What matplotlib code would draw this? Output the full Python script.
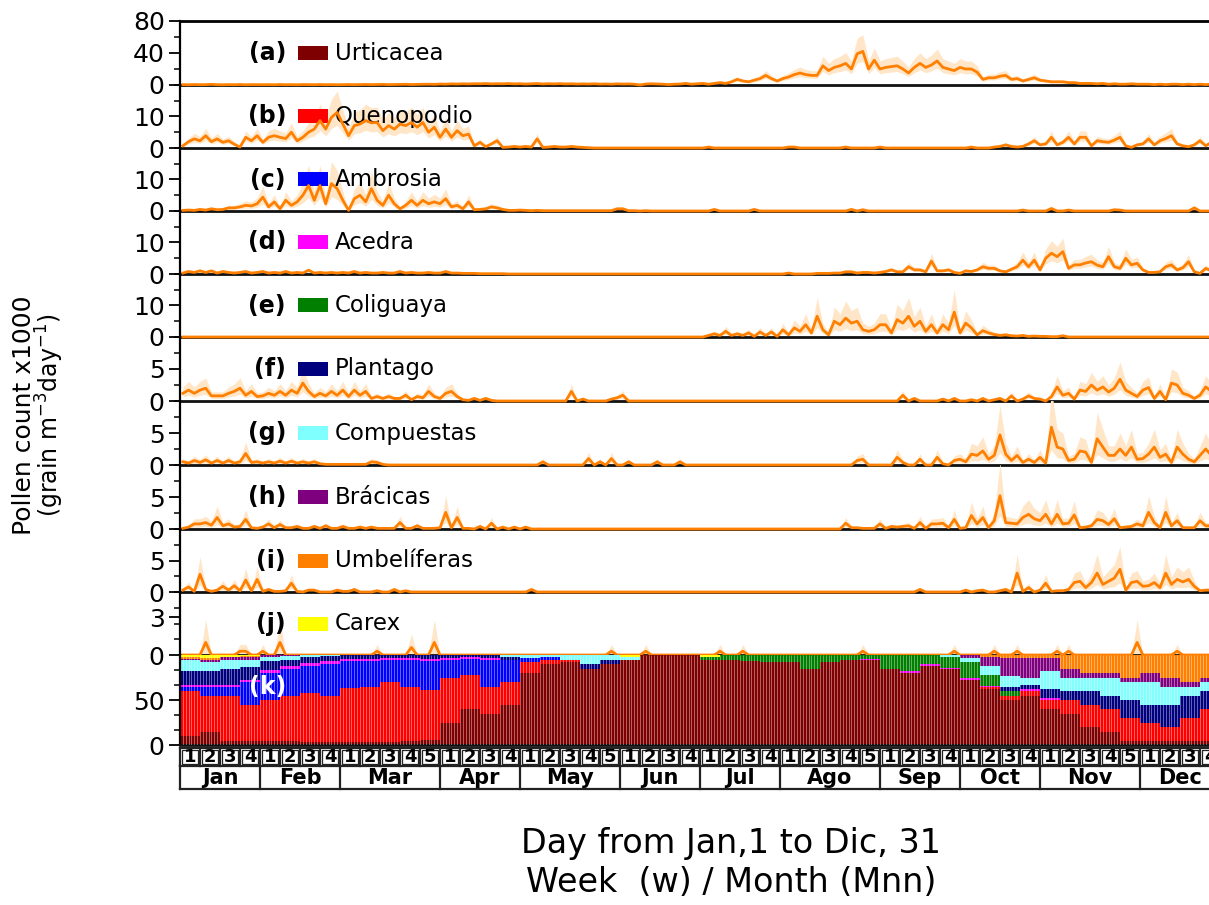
import numpy as np
import matplotlib
matplotlib.use("Agg")
import matplotlib.pyplot as plt
from matplotlib.patches import Rectangle
from matplotlib.ticker import MultipleLocator, FixedLocator

plt.rcParams['font.family'] = ['DejaVu Sans']

# ---------------- data (values x1000, 2-day bins, Jan 1 -> Dec 31) ----------------
taxa = ['Urticacea', 'Quenopodio', 'Ambrosia', 'Acedra', 'Coliguaya',
        'Plantago', 'Compuestas', 'Brácicas', 'Umbelíferas', 'Carex']
panel_tags = ['(a)', '(b)', '(c)', '(d)', '(e)', '(f)', '(g)', '(h)', '(i)', '(j)']
taxon_colors = ['#7f0000', '#ff0000', '#0000ff', '#ff00ff', '#007f00',
                '#00007f', '#80ffff', '#7f007f', '#ff8000', '#ffff00']
y_max = [80, 20, 20, 20, 20, 10, 10, 10, 10, 5]
y_major = [[0, 40, 80], [0, 10], [0, 10], [0, 10], [0, 10],
           [0, 5], [0, 5], [0, 5], [0, 5], [0, 3]]
months = ['Jan', 'Feb', 'Mar', 'Apr', 'May', 'Jun', 'Jul', 'Ago', 'Sep', 'Oct', 'Nov', 'Dec']
weeks_per_month = [4, 4, 5, 4, 5, 4, 4, 5, 4, 4, 5, 4]
band_rel = [0.5, 0.6, 0.8, 0.6, 0.9, 0.8, 1.0, 1.0, 1.0, 1.8]

urticacea = [
    0.5, 0.3, 0.6, 0.4, 0.5, 0.8, 0.4, 0.3, 0.5, 0.4, 0.6, 0.3, 0.5, 0.4,
    0.4, 0.5, 0.3, 0.6, 0.4, 0.5, 0.3, 0.6, 0.5, 0.4, 0.6, 0.4, 0.5, 0.3,
    0.5, 0.6, 0.4, 0.5, 0.7, 0.5, 0.6, 0.8, 0.5, 0.6, 0.7, 0.9, 0.6, 0.8,
    0.9, 1.0, 0.8, 1.2, 1.0, 1.4, 1.2, 1.5, 1.3, 1.6, 1.5, 1.8, 1.4, 1.6,
    1.5, 1.8, 1.4, 1.6, 1.2, 1.5, 1.8, 1.3, 1.6, 1.4, 1.7, 1.3, 1.5, 1.2,
    1.4, 1.2, 1.5, 1.1, 1.3, 1.0, 1.4, 1.2, 1.3, 1.0, 0.0, 1.2, 1.5, 1.3,
    1.0, 0.5, 1.0, 1.2, 2.0, 1.0, 1.5, 2.0, 1.0, 2.0, 3.0, 2.0, 4.0, 7.0,
    5, 4, 6, 8, 12, 8, 5, 8, 10, 13, 15, 13, 12, 12,
    24, 18, 22, 24, 27, 20, 39, 42, 20, 31, 20, 22, 23, 24,
    20, 15, 22, 27, 22, 25, 30, 22, 20, 18, 22, 20, 20, 16,
    7, 9, 9, 11, 12, 7, 8, 5, 7, 9, 6, 5, 4, 4,
    4, 3, 3, 2, 2, 2, 1.5, 2, 1, 1.5, 1, 1, 1.5, 1,
    1, 1, 0.5, 1, 0.5, 1, 1, 0.5, 1, 0.5, 1, 0.5, 1, 0.5]

quenopodio = [
    0.7, 2, 2.9, 2.3, 3.9, 2, 2.9, 1.8, 2.3, 1.2, 0.3, 3.4, 2.3, 3.9,
    1.8, 3.4, 3.9, 3.4, 3, 5, 2.3, 3.4, 5, 6, 8.7, 6, 9.7, 11.3,
    7.6, 3.9, 7.1, 7.6, 8.7, 8, 8.1, 5.5, 7.1, 6, 7.6, 7.1, 8.1, 6.6,
    8.1, 5, 6.6, 3.4, 6, 3.4, 5.5, 3.9, 4.4, 0.7, 1.8, 0.4, 1.3, 2.3,
    0.2, 0.3, 0.5, 0.3, 0.5, 0.3, 2.9, 0.2, 0.3, 0.5, 0.3, 0.3, 0.5, 0.3,
    0.2, 0.1, 0, 0, 0, 0, 0, 0, 0, 0, 0, 0, 0, 0,
    0, 0, 0, 0, 0, 0, 0, 0, 0.3, 0, 0, 0, 0, 0,
    0, 0, 0, 0, 0, 0, 0, 0, 0.3, 0.3, 0, 0, 0, 0,
    0, 0, 0, 0, 0.3, 0, 0, 0, 0, 0, 0.3, 0, 0, 0,
    0, 0, 0, 0, 0, 0, 0, 0, 0, 0, 0, 0, 0.3, 0,
    0, 0, 0.3, 0.5, 1, 0.5, 0.3, 0.5, 1.3, 2.3, 1, 1.3, 3.4, 1,
    1.8, 3.4, 1.3, 3.4, 3.4, 0.7, 2.3, 2, 1.8, 2.5, 3.4, 0.7, 0.2, 1,
    1.3, 2.9, 1, 2.3, 3, 3.9, 1.3, 0.7, 0.4, 1, 2.3, 0.7, 1.8, 1]

ambrosia = [
    0.2, 0.3, 0.2, 0.5, 0.3, 0.7, 0.4, 0.5, 1, 1, 1.3, 1.8, 1.6, 2.3,
    4.4, 1.3, 2.9, 0.7, 3.4, 1.8, 2.9, 5, 8.1, 3.4, 8.1, 2.3, 8.7, 7.1,
    3.4, 0.2, 3.9, 5, 2.9, 7.1, 3.4, 1.8, 5, 2.3, 0.7, 1.8, 3.4, 1.8,
    3.4, 2.3, 2.9, 2.3, 3.9, 1.3, 1.8, 0.7, 2.9, 0.4, 0.5, 0.7, 1.3, 1,
    0.5, 0.2, 0.2, 0.3, 0.2, 0.1, 0.2, 0.1, 0.1, 0.1, 0.1, 0.1, 0.1, 0.1,
    0.1, 0.1, 0.1, 0.1, 0.1, 0.1, 0.7, 0.7, 0.1, 0.1, 0, 0.1, 0, 0,
    0, 0, 0, 0, 0, 0, 0, 0, 0, 0.5, 0, 0, 0, 0,
    0, 0, 0.5, 0, 0, 0, 0, 0, 0, 0, 0, 0, 0, 0,
    0, 0, 0, 0, 0, 0.5, 0, 0.4, 0, 0, 0, 0, 0, 0,
    0, 0, 0, 0, 0, 0, 0, 0, 0, 0, 0, 0, 0, 0,
    0, 0, 0, 0, 0, 0, 0, 0.3, 0, 0, 0, 0, 0.8, 0,
    0, 0.3, 0, 0, 0, 0, 0, 0, 0, 0.4, 0.3, 0, 0, 0,
    0, 0, 0, 0, 0, 0, 0, 0, 0, 1.0, 0, 0, 0, 0]

acedra = [
    0.3, 0.8, 0.5, 1, 0.5, 1, 0.3, 0.8, 0.5, 0.3, 0.5, 0.8, 0.3, 0.5,
    0.8, 0.3, 0.5, 0.3, 0.8, 0.3, 0.5, 0.3, 1.2, 0.3, 0.5, 0.3, 0.5, 0.3,
    0.5, 0.3, 0.8, 0.3, 0.5, 0.3, 0.3, 0.5, 0.3, 0.3, 0.8, 0.3, 0.5, 0.3,
    0.3, 0.5, 0.3, 0.3, 0.8, 0.3, 0.3, 0.2, 0.2, 0.2, 0.1, 0.1, 0.1, 0.1,
    0.1, 0, 0, 0, 0, 0, 0, 0, 0, 0, 0, 0, 0, 0,
    0, 0, 0, 0, 0, 0, 0, 0, 0, 0, 0, 0, 0, 0,
    0, 0, 0, 0, 0, 0, 0, 0, 0, 0, 0, 0, 0, 0,
    0, 0, 0, 0, 0, 0, 0, 0, 0.3, 0, 0, 0, 0, 0.2,
    0.2, 0.2, 0.3, 0.3, 0.7, 0.7, 0.3, 0.5, 0.5, 0.3, 0.5, 0.8, 1.3, 0.7,
    0.7, 2.3, 1.3, 1.3, 0.7, 4.1, 1, 1, 1.3, 0.5, 0.2, 1, 0.8, 1.3,
    2.3, 1.8, 1.8, 1, 0.7, 1.5, 2.3, 4.4, 2.3, 4.4, 1.3, 5, 6.6, 5.5,
    7.1, 1.8, 2.9, 2.9, 3.5, 3.9, 2.8, 2.3, 5.5, 2.3, 1.8, 5, 2.9, 3.4,
    1.3, 0.5, 0.5, 0.7, 2.3, 2.9, 1.3, 2, 3.9, 0.7, 0.2, 1.8, 1, 0.5]

coliguaya = [
    0, 0, 0, 0, 0, 0, 0, 0, 0, 0, 0, 0, 0, 0,
    0, 0, 0, 0, 0, 0, 0, 0, 0, 0, 0, 0, 0, 0,
    0, 0, 0, 0, 0, 0, 0, 0, 0, 0, 0, 0, 0, 0,
    0, 0, 0, 0, 0, 0, 0, 0, 0, 0, 0, 0, 0, 0,
    0, 0, 0, 0, 0, 0, 0, 0, 0, 0, 0, 0, 0, 0,
    0, 0, 0, 0, 0, 0, 0, 0, 0, 0, 0, 0, 0, 0,
    0, 0, 0, 0, 0, 0, 0, 0, 0.5, 1, 0.5, 1.8, 0.5, 1,
    0.5, 1.3, 0.2, 1.6, 0.5, 1.6, 0.2, 2.3, 0.7, 2.9, 1.8, 3.9, 1.3, 6.6,
    2.3, 0.7, 5, 3.9, 6, 4.4, 5, 2.3, 1.8, 2.3, 3.9, 3.9, 1.3, 5.5,
    4.4, 6.6, 3.4, 5, 1.8, 3.9, 1.3, 3.9, 2.3, 7.9, 1.3, 4.4, 2.9, 0.7,
    2, 1.3, 0.8, 0.5, 0.7, 0.4, 0.3, 0.5, 0.2, 0.3, 0.2, 0.2, 0.1, 0.1,
    0.4, 0, 0, 0, 0, 0, 0, 0, 0, 0, 0, 0, 0, 0,
    0, 0, 0, 0, 0, 0, 0, 0, 0, 0, 0, 0, 0, 0]

plantago = [
    1.2, 1.7, 1.2, 1.7, 2, 0.8, 0.8, 0.8, 1.2, 1.5, 2, 0.9, 1.5, 0.7,
    0.8, 1.2, 0.9, 1.5, 0.9, 1.7, 1.2, 2.8, 1.5, 0.7, 1.2, 0.8, 1.5, 0.9,
    1.7, 0.7, 1.7, 0.9, 1.5, 0.4, 0.7, 0.4, 0.7, 0.4, 0.4, 0.9, 0.2, 0.7,
    0.5, 1.5, 0.7, 0.4, 1.2, 1.5, 0.7, 0.2, 0.1, 0.4, 0.1, 0.4, 0.1, 0,
    0, 0, 0, 0, 0, 0, 0, 0, 0, 0, 0, 0, 1.5, 0,
    0.3, 0, 0, 0, 0, 0.3, 0.5, 0.9, 0, 0, 0, 0, 0, 0,
    0, 0, 0, 0, 0, 0, 0, 0, 0, 0, 0, 0, 0, 0,
    0, 0, 0, 0, 0, 0, 0, 0, 0, 0, 0, 0, 0, 0,
    0, 0, 0, 0, 0, 0, 0, 0, 0, 0, 0, 0, 0, 0,
    0.9, 0, 0.4, 0, 0, 0, 0, 0.3, 0, 0.4, 0, 0, 0.2, 0,
    0.4, 0, 0.2, 0.4, 0, 0.8, 0, 0.3, 0.8, 0.4, 0.3, 0, 0.7, 2.2,
    0.9, 1.2, 0.3, 1.7, 1.5, 2.5, 1.7, 2.2, 1.4, 2, 3.4, 1.7, 1.2, 0.7,
    1.7, 2.1, 0.4, 1.5, 0.2, 2.8, 2.5, 1.2, 0.9, 0.4, 0.9, 2.2, 1.5, 1]

compuestas = [
    0.5, 0.3, 0.7, 0.4, 0.8, 0.3, 0.7, 0.3, 0.7, 0.3, 0.5, 1.8, 0.4, 0.5,
    0.3, 0.5, 0.3, 0.6, 0.3, 0.6, 0.3, 0.5, 0.3, 0.5, 0.2, 0.1, 0.1, 0.1,
    0.1, 0.1, 0.1, 0.1, 0.1, 0.5, 0.4, 0.1, 0, 0, 0, 0, 0, 0,
    0, 0, 0, 0, 0, 0, 0, 0, 0, 0, 0, 0, 0, 0,
    0, 0, 0, 0, 0, 0, 0, 0.5, 0, 0, 0, 0, 0, 0,
    0, 1, 0, 0.5, 0, 1, 0, 0, 0.5, 0, 0, 0, 0, 0.5,
    0, 0, 0, 0.5, 0, 0, 0, 0, 0, 0, 0, 0, 0, 0,
    0, 0, 0, 0, 0, 0, 0, 0, 0, 0, 0, 0, 0, 0,
    0, 0, 0, 0, 0, 0, 0.7, 0.9, 0, 0, 0, 0, 0, 1.2,
    0.4, 0, 0, 0.9, 0, 0, 1.2, 0.2, 0, 0.7, 0.9, 0.5, 1.7, 1.5,
    2.2, 0.9, 1.5, 4.7, 1.7, 0.7, 1.5, 0.4, 0.9, 0.4, 1.2, 0.3, 5.9, 2.8,
    2.5, 0.7, 0.9, 2.2, 2, 0.4, 4.1, 2.8, 1.5, 1.5, 2.5, 1.5, 2.8, 0.9,
    1, 1.7, 2.8, 1.2, 1.7, 0.4, 2.8, 1.7, 0.9, 0.5, 1.5, 2.5, 1.5, 1]

bracicas = [
    0.1, 0.3, 0.8, 0.8, 1, 0.6, 1.8, 0.5, 0.8, 0.3, 0.4, 1.5, 0.2, 0.1,
    0.3, 0.8, 0.2, 0.7, 0.2, 0.2, 0.4, 0.1, 0.1, 0.4, 0.1, 0.5, 0.1, 0.1,
    0.4, 0.1, 0.1, 0.3, 0.1, 0.3, 0.1, 0.1, 0.1, 0.1, 1, 0.1, 0.1, 0.5,
    0.1, 0.1, 0.1, 0.2, 2.6, 0.2, 1.8, 0.1, 0.1, 0, 0.4, 0, 0.9, 0,
    0.3, 0, 0.3, 0, 0.3, 0, 0, 0, 0, 0, 0, 0, 0, 0,
    0, 0, 0, 0, 0, 0, 0, 0, 0, 0, 0, 0, 0, 0,
    0, 0, 0, 0, 0, 0, 0, 0, 0, 0, 0, 0, 0, 0,
    0, 0, 0, 0, 0, 0, 0, 0, 0, 0, 0, 0, 0, 0,
    0, 0, 0, 0, 0.9, 0.2, 0.2, 0.1, 0.1, 0.1, 0.8, 0.1, 0.4, 0.3,
    0.4, 0.5, 0.1, 1, 0.1, 0.8, 0.8, 0.9, 0.2, 1.5, 0.1, 0.2, 2.1, 0.8,
    1.8, 0.2, 1.3, 5.2, 1, 0.9, 0.8, 1.8, 2.3, 1.6, 1.3, 2.3, 0.8, 2.3,
    0.8, 0.9, 2.2, 0.2, 0.3, 0.5, 1.5, 1.3, 0.7, 1.6, 0.2, 0.3, 0.4, 0.8,
    0.5, 2.6, 1, 0.2, 2.6, 0.5, 1.3, 0.2, 0.2, 0.2, 1.3, 0.5, 0.5, 0.5]

umbeliferas = [
    0.3, 0.8, 0.1, 2.8, 0.4, 0.1, 0.3, 0.9, 0.3, 1, 0.2, 1.9, 0.2, 2,
    0.1, 0.4, 0.1, 0.1, 0.2, 1.4, 0.1, 0, 0.3, 0.3, 0, 0, 0, 0.3,
    0.1, 0.1, 0.4, 0, 0, 0, 0.2, 0, 0, 0.4, 0, 0.2, 0, 0,
    0, 0, 0, 0, 0, 0, 0, 0, 0, 0, 0, 0, 0, 0,
    0, 0, 0, 0, 0, 0.4, 0, 0, 0, 0, 0, 0, 0, 0,
    0, 0, 0, 0, 0, 0, 0, 0, 0, 0, 0, 0, 0, 0,
    0, 0, 0, 0, 0, 0, 0, 0, 0, 0, 0, 0, 0, 0,
    0, 0, 0, 0, 0, 0, 0, 0, 0, 0, 0, 0, 0, 0,
    0, 0, 0, 0, 0, 0, 0, 0, 0, 0, 0, 0, 0, 0,
    0, 0, 0, 0.4, 0, 0, 0, 0, 0, 0, 0, 0.3, 0, 0.2,
    0.3, 0, 0, 0.2, 0.4, 0, 3, 0.1, 0.7, 0, 0.3, 1.4, 0.1, 0.2,
    0.2, 0.4, 1.5, 1.7, 0.7, 1.5, 3, 1.2, 1.7, 2.2, 3.6, 0.3, 1.5, 1.7,
    0.9, 1, 1.5, 0.7, 3, 1.2, 2, 1.6, 2, 0.9, 0.2, 0.3, 0.3, 0.3]

carex = [
    0, 0, 0, 0, 1, 0, 0, 0, 0, 0, 0.3, 0.3, 0, 0,
    0.3, 0, 0, 1, 0, 0, 0, 0, 0, 0, 0, 0, 0, 0,
    0, 0, 0, 0, 0, 0, 0.3, 0, 0, 0, 0, 0, 0.6, 0,
    0, 0, 1, 0, 0, 0, 0, 0, 0, 0, 0, 0, 0, 0,
    0, 0, 0, 0, 0, 0, 0, 0, 0, 0, 0, 0, 0, 0,
    0, 0, 0, 0, 0, 0.3, 0, 0, 0, 0, 0, 0.3, 0, 0,
    0, 0, 0, 0, 0, 0, 0, 0, 0, 0, 0.3, 0, 0, 0,
    0.3, 0, 0, 0, 0, 0, 0, 0, 0, 0, 0, 0, 0, 0,
    0, 0, 0, 0, 0, 0, 0, 0.3, 0, 0, 0, 0, 0, 0,
    0, 0, 0, 0, 0, 0, 0, 0, 0, 0.3, 0, 0, 0, 0,
    0, 0, 0.3, 0, 0, 0, 0.3, 0, 0, 0, 0, 0, 0, 0.3,
    0, 0.3, 0, 0, 0, 0, 0, 0, 0, 0, 0, 0, 0, 1,
    0, 0, 0, 0, 0, 0, 0.3, 0, 0, 0, 0, 0, 0, 0]

series = [urticacea, quenopodio, ambrosia, acedra, coliguaya,
          plantago, compuestas, bracicas, umbeliferas, carex]

# weekly composition (% of total) shown in panel (k), weeks 1..52
share_urticacea = [10, 15, 5, 5, 5, 5, 3, 3, 3, 3, 3, 4, 6, 25, 40, 35, 45,
                   80, 90, 92, 85, 90, 95, 100, 100, 100, 95, 95, 93, 92,
                   92, 85, 92, 94, 95, 85, 80, 88, 85, 72, 62, 50, 55,
                   40, 35, 20, 15, 5, 5, 5, 5, 5]
share_quenopodio = [50, 40, 50, 40, 45, 50, 55, 52, 60, 62, 67, 60, 55, 50, 38, 30, 25,
                    12, 5, 3, 0, 0, 0, 0, 0, 0, 0, 0, 0, 0,
                    0, 0, 0, 0, 0, 0, 0, 0, 0, 0, 2, 5, 5,
                    10, 15, 25, 25, 25, 20, 15, 25, 35]
share_ambrosia = [5, 10, 10, 25, 30, 30, 30, 35, 30, 28, 25, 30, 32, 20, 18, 30, 25,
                  5, 3, 0, 0, 0, 0, 0, 0, 0, 0, 0, 0, 0,
                  0, 0, 0, 0, 0, 0, 0, 0, 0, 0, 0, 0, 0,
                  0, 0, 0, 0, 0, 0, 0, 0, 0]
share_acedra = [2, 2, 2, 2, 3, 3, 3, 3, 3, 3, 2, 3, 3, 2, 2, 2, 0,
                0, 0, 0, 0, 0, 0, 0, 0, 0, 0, 0, 0, 0,
                0, 0, 0, 0, 1, 0, 2, 2, 1, 2, 2, 0, 2,
                2, 0, 0, 0, 0, 0, 0, 0, 0]
share_coliguaya = [0, 0, 0, 0, 0, 0, 0, 0, 0, 0, 0, 0, 0, 0, 0, 0, 0,
                   0, 0, 0, 0, 0, 0, 0, 0, 0, 3, 5, 7, 8,
                   8, 15, 8, 6, 4, 15, 18, 10, 12, 18, 12, 5, 0,
                   0, 0, 0, 0, 0, 0, 0, 0, 0]
share_plantago = [15, 15, 18, 15, 10, 7, 7, 6, 4, 4, 3, 3, 4, 3, 2, 3, 3,
                  0, 0, 0, 5, 5, 0, 0, 0, 0, 0, 0, 0, 0,
                  0, 0, 0, 0, 0, 0, 0, 0, 0, 0, 0, 5, 5,
                  10, 10, 15, 15, 20, 20, 25, 25, 20]
share_compuestas = [12, 10, 10, 8, 5, 4, 2, 1, 0, 0, 0, 0, 0, 0, 0, 0, 2,
                    3, 2, 5, 10, 5, 3, 0, 0, 0, 0, 0, 0, 0,
                    0, 0, 0, 0, 0, 0, 0, 0, 2, 5, 10, 12, 8,
                    20, 15, 15, 20, 20, 25, 20, 10, 10]
share_bracicas = [2, 3, 3, 3, 2, 1, 0, 0, 0, 0, 0, 0, 0, 0, 0, 0, 0,
                  0, 0, 0, 0, 0, 0, 0, 0, 0, 0, 0, 0, 0,
                  0, 0, 0, 0, 0, 0, 0, 0, 0, 3, 10, 20, 22,
                  15, 10, 5, 5, 5, 10, 10, 5, 5]
share_umbeliferas = [2, 2, 0, 1, 0, 0, 0, 0, 0, 0, 0, 0, 0, 0, 0, 0, 0,
                     0, 0, 0, 0, 0, 0, 0, 0, 0, 0, 0, 0, 0,
                     0, 0, 0, 0, 0, 0, 0, 0, 0, 0, 2, 3, 3,
                     3, 15, 20, 20, 25, 20, 25, 30, 25]
share_carex = [2, 3, 2, 1, 0, 0, 0, 0, 0, 0, 0, 0, 0, 0, 0, 0, 0,
               0, 0, 0, 0, 0, 2, 0, 0, 0, 2, 0, 0, 0,
               0, 0, 0, 0, 0, 0, 0, 0, 0, 0, 0, 0, 0,
               0, 0, 0, 0, 0, 0, 0, 0, 0]
shares = [share_urticacea, share_quenopodio, share_ambrosia, share_acedra, share_coliguaya,
          share_plantago, share_compuestas, share_bracicas, share_umbeliferas, share_carex]

# ---------------- layout ----------------
W, H = 1209, 905
X0, X1 = 180, 1220
N_DAYS = 364
fig = plt.figure(figsize=(W / 100, H / 100), dpi=100)


def rect(top, bot):
    return [X0 / W, 1 - bot / H, (X1 - X0) / W, (bot - top) / H]


edges = [21, 85, 148, 211, 274, 337, 401, 465, 529, 592, 655, 745]
x = np.arange(len(urticacea)) * 2 + 1.0
line_col = '#ff8000'
band_col = '#ffe6c8'
TICK_FS = 18


def style_axis(ax):
    ax.set_xlim(0, N_DAYS)
    ax.set_xticks([])
    ax.spines['right'].set_visible(False)
    ax.spines['top'].set_visible(False)
    ax.spines['left'].set_linewidth(1.6)
    ax.spines['bottom'].set_linewidth(2.0)
    ax.spines['bottom'].set_color('#111111')
    ax.tick_params(axis='y', which='major', direction='out', length=8, width=1.3,
                   labelsize=TICK_FS, pad=3)
    ax.tick_params(axis='y', which='minor', direction='out', length=4, width=1.1)
    ax.patch.set_alpha(0)


for i, (name, tag, col, vals) in enumerate(zip(taxa, panel_tags, taxon_colors, series)):
    top, bot = edges[i], edges[i + 1]
    ax = fig.add_axes(rect(top, bot))
    v = np.array(vals, dtype=float)
    hi = v * (1 + band_rel[i])
    lo = np.clip(v * (1 - band_rel[i] * 0.6), 0, None)
    ax.fill_between(x, lo, hi, color=band_col, lw=0, zorder=1)
    ax.plot(x, v, color=line_col, lw=2.0, zorder=4, clip_on=False)
    ax.set_ylim(0, y_max[i])
    ax.yaxis.set_major_locator(FixedLocator(y_major[i]))
    ax.yaxis.set_minor_locator(MultipleLocator(y_max[i] / 4))
    style_axis(ax)
    if i == 0:
        ax.spines['top'].set_visible(True)
        ax.spines['top'].set_linewidth(2.0)
    ph = bot - top
    ax.text((286 - X0) / (X1 - X0), 0.5, tag, transform=ax.transAxes, ha='right',
            va='center', fontsize=17, fontweight='bold')
    ax.add_patch(Rectangle(((298 - X0) / (X1 - X0), 0.5 - 7 / ph), 30 / (X1 - X0), 14 / ph,
                           transform=ax.transAxes, facecolor=col, edgecolor='none'))
    ax.text((335 - X0) / (X1 - X0), 0.5, name, transform=ax.transAxes, ha='left',
            va='center', fontsize=16.5)

# ---------------- (k) composition bars ----------------
axk = fig.add_axes(rect(edges[10], edges[11]))
comp = np.array(shares, dtype=float)
wk_total = comp.sum(axis=0)
pct = np.divide(comp * 100.0, wk_total, out=np.zeros_like(comp), where=wk_total > 0)
xw = np.arange(comp.shape[1]) * 7 + 3.5
bottom = np.zeros(len(xw))
for col, p in zip(taxon_colors, pct):
    axk.bar(xw, p, width=7.0, bottom=bottom, color=col, linewidth=0, zorder=2)
    bottom += p
# thin light separators between daily bars
axk.vlines(np.arange(1, N_DAYS), 0, 100, colors='white', linewidth=0.55, alpha=0.5, zorder=3)
axk.set_ylim(0, 100)
axk.yaxis.set_major_locator(FixedLocator([0, 50]))
axk.yaxis.set_minor_locator(FixedLocator([100 / 6, 100 / 3, 200 / 3, 250 / 3]))
style_axis(axk)
axk.text((286 - X0) / (X1 - X0), (745 - 687) / 90, '(k)', transform=axk.transAxes,
         ha='right', va='center', fontsize=17, fontweight='bold', color='white', zorder=5)

# ---------------- week / month table ----------------
axt = fig.add_axes(rect(748, 789))
axt.set_xlim(0, N_DAYS)
axt.set_ylim(0, 1)
axt.axis('off')
edge_c = '#222222'
split = 0.56
axt.plot([0, N_DAYS], [1, 1], color=edge_c, lw=1.6, clip_on=False)
axt.plot([0, N_DAYS], [split, split], color=edge_c, lw=1.6, clip_on=False)
axt.plot([0, N_DAYS], [0, 0], color=edge_c, lw=1.6, clip_on=False)
day = 0
for m, nw in zip(months, weeks_per_month):
    start = day
    for w in range(nw):
        axt.plot([day, day], [split, 1], color=edge_c, lw=1.6, clip_on=False)
        axt.add_patch(Rectangle((day + 0.8, split + 0.05), 5.4, 1 - split - 0.1,
                                facecolor='none', edgecolor=edge_c, lw=0.9))
        axt.text(day + 3.5, (split + 1) / 2, str(w + 1), ha='center', va='center',
                 fontsize=13, fontweight='bold')
        day += 7
    axt.plot([start, start], [0, split], color=edge_c, lw=1.6, clip_on=False)
    axt.text((start + day) / 2, split / 2, m, ha='center', va='center',
             fontsize=15, fontweight='bold')
axt.plot([day, day], [0, 1], color=edge_c, lw=1.6, clip_on=False)

# ---------------- axis titles ----------------
fig.text(24 / W, 1 - 415 / H, 'Pollen count x1000', rotation=90, ha='center',
         va='center', fontsize=18)
fig.text(50 / W, 1 - 415 / H, '(grain m$^{-3}$day$^{-1}$)', rotation=90, ha='center',
         va='center', fontsize=17)
fig.text(731 / W, 1 - 843 / H, 'Day from Jan,1 to Dic, 31', ha='center', va='center',
         fontsize=24)
fig.text(731 / W, 1 - 882 / H, 'Week  (w) / Month (Mnn)', ha='center', va='center',
         fontsize=24)

fig.savefig('out.png', dpi=100)
